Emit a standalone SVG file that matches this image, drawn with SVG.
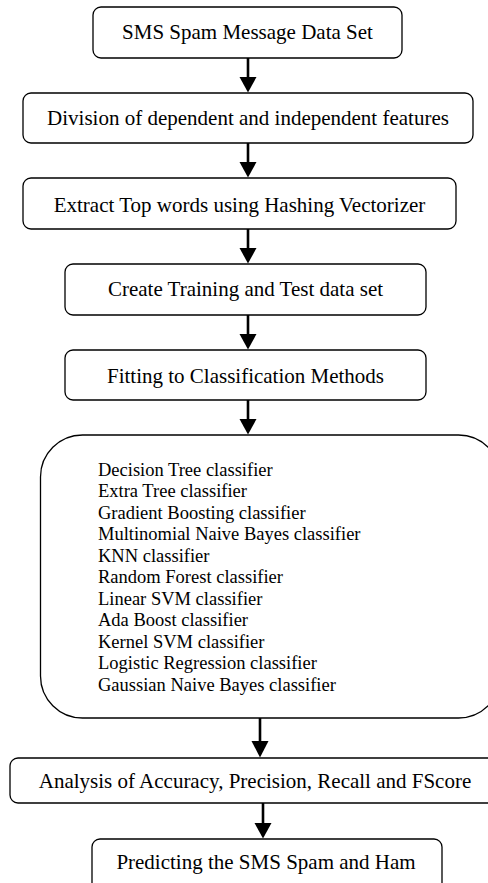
<svg xmlns="http://www.w3.org/2000/svg" width="488" height="883" viewBox="0 0 488 883">
<style>
.box{fill:#fff;stroke:#000;stroke-width:1.3}
.t{font-family:"Liberation Serif","Times New Roman",serif;font-size:21px;fill:#000;text-anchor:middle}
.l{font-family:"Liberation Serif","Times New Roman",serif;font-size:18.5px;fill:#000}
.c{stroke:#000;stroke-width:2.6;fill:none}
</style>
<defs>
<marker id="ah" markerWidth="17" markerHeight="15" refX="8.5" refY="15" orient="auto-start-reverse" markerUnits="userSpaceOnUse" viewBox="0 0 17 15">
<path d="M0,0 L17,0 L8.5,15 Z" fill="#000"/>
</marker>
</defs>
<rect width="488" height="883" fill="#fff"/>
<g id="connectors">
<line class="c" x1="248" y1="58" x2="248" y2="78"/><path d="M239.5,77 L256.5,77 L248,92.5 Z"/>
<line class="c" x1="248" y1="143" x2="248" y2="163"/><path d="M239.5,162 L256.5,162 L248,177.5 Z"/>
<line class="c" x1="248" y1="229" x2="248" y2="249"/><path d="M239.5,248 L256.5,248 L248,263.5 Z"/>
<line class="c" x1="248" y1="315" x2="248" y2="335"/><path d="M239.5,334 L256.5,334 L248,349.5 Z"/>
<line class="c" x1="248" y1="400" x2="248" y2="420"/><path d="M239.5,419 L256.5,419 L248,434.5 Z"/>
<line class="c" x1="260" y1="718" x2="260" y2="742"/><path d="M251.5,741 L268.5,741 L260,757.5 Z"/>
<line class="c" x1="263" y1="803" x2="263" y2="824"/><path d="M254.5,823 L271.5,823 L263,838.5 Z"/>
</g>
<g id="n1"><rect class="box" x="93" y="7" width="309" height="51" rx="8"/><text class="t" x="247.5" y="39">SMS Spam Message Data Set</text></g>
<g id="n2"><rect class="box" x="23" y="93" width="450" height="50" rx="8"/><text class="t" x="248" y="125">Division of dependent and independent features</text></g>
<g id="n3"><rect class="box" x="23" y="178" width="433" height="51" rx="8"/><text class="t" x="239.5" y="212">Extract Top words using Hashing Vectorizer</text></g>
<g id="n4"><rect class="box" x="65" y="264" width="361" height="51" rx="8"/><text class="t" x="245.5" y="296">Create Training and Test data set</text></g>
<g id="n5"><rect class="box" x="65" y="350" width="361" height="50" rx="8"/><text class="t" x="245.5" y="383">Fitting to Classification Methods</text></g>
<g id="n6"><rect class="box" x="40.5" y="435" width="460" height="283" rx="42"/>
<text class="l" x="98" y="475.7">Decision Tree classifier</text>
<text class="l" x="98" y="497.2">Extra Tree classifier</text>
<text class="l" x="98" y="518.7">Gradient Boosting classifier</text>
<text class="l" x="98" y="540.2">Multinomial Naive Bayes classifier</text>
<text class="l" x="98" y="561.7">KNN classifier</text>
<text class="l" x="98" y="583.2">Random Forest classifier</text>
<text class="l" x="98" y="604.7">Linear SVM classifier</text>
<text class="l" x="98" y="626.2">Ada Boost classifier</text>
<text class="l" x="98" y="647.7">Kernel SVM classifier</text>
<text class="l" x="98" y="669.2">Logistic Regression classifier</text>
<text class="l" x="98" y="690.7">Gaussian Naive Bayes classifier</text>
</g>
<g id="n7"><rect class="box" x="10" y="758" width="490" height="45" rx="8"/><text class="t" x="255" y="788">Analysis of Accuracy, Precision, Recall and FScore</text></g>
<g id="n8"><rect class="box" x="92" y="839" width="350" height="60" rx="8"/><text class="t" x="266" y="869">Predicting the SMS Spam and Ham</text></g>
</svg>
